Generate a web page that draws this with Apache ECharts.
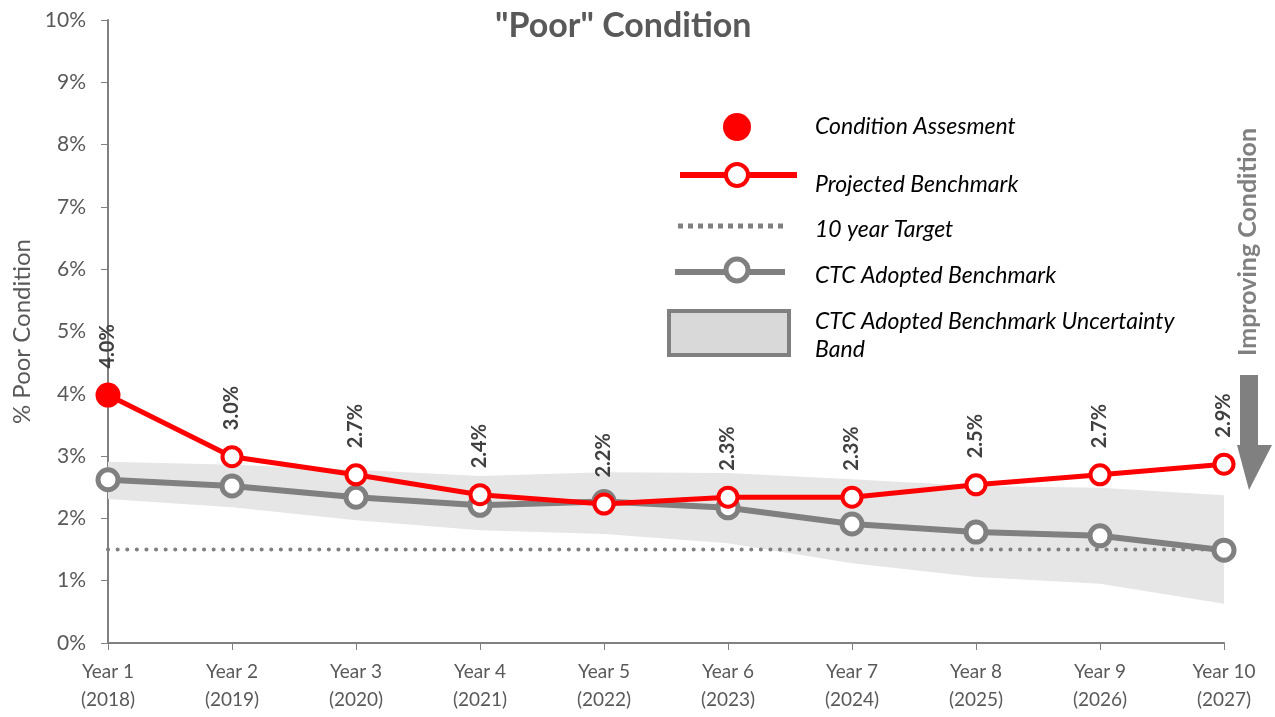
<!DOCTYPE html>
<html>
<head>
<meta charset="utf-8">
<script src="https://cdn.jsdelivr.net/npm/echarts@6/dist/echarts.min.js"></script>
<style>
  html, body { margin: 0; padding: 0; background: #fff; }
  #chartId { width: 1275px; height: 717px; }
</style>
</head>
<body>
<div id="chartId"></div>
<script>
// data
var categories = ['Year 1\n(2018)', 'Year 2\n(2019)', 'Year 3\n(2020)', 'Year 4\n(2021)', 'Year 5\n(2022)',
  'Year 6\n(2023)', 'Year 7\n(2024)', 'Year 8\n(2025)', 'Year 9\n(2026)', 'Year 10\n(2027)']
var assessment = [3.98, null, null, null, null, null, null, null, null, null]
var projected = [3.98, 2.99, 2.70, 2.38, 2.23, 2.34, 2.34, 2.54, 2.70, 2.87]
var adopted = [2.62, 2.52, 2.34, 2.21, 2.27, 2.17, 1.91, 1.78, 1.72, 1.49]
var target = [1.5, 1.5, 1.5, 1.5, 1.5, 1.5, 1.5, 1.5, 1.5, 1.5]
var bandLow = [2.31, 2.18, 1.97, 1.81, 1.75, 1.60, 1.28, 1.06, 0.95, 0.63]
var bandHigh = [2.91, 2.86, 2.78, 2.68, 2.74, 2.73, 2.63, 2.52, 2.49, 2.37]
var yTicks = { min: 0, max: 10, interval: 1 }

var RED = '#ff0000'
var GREY = '#808080'
var FONT = 'Lato, "Open Sans", sans-serif'

var bandSpan = bandHigh.map(function (v, i) { return +(v - bandLow[i]).toFixed(2) })

var legendText = function (txt, y) {
  return { type: 'text', x: 815, y: y, style: { text: txt, fontSize: 23, fontStyle: 'italic', fontFamily: FONT, fill: '#000', verticalAlign: 'middle' } }
}

var chart = echarts.init(document.getElementById('chartId'))
chart.setOption({
  animation: false,
  textStyle: { fontFamily: FONT },
  title: {
    text: '"Poor" Condition',
    left: 490,
    top: 4,
    textStyle: { fontSize: 34, fontWeight: 'bold', color: '#595959', fontFamily: FONT }
  },
  grid: { left: 108, right: 51, top: 20, bottom: 74, outerBoundsMode: 'none', containLabel: false },
  xAxis: {
    type: 'category',
    data: categories,
    boundaryGap: false,
    axisLine: { lineStyle: { color: GREY, width: 2 } },
    axisTick: { show: true, length: 7, lineStyle: { color: GREY, width: 1 } },
    axisLabel: { color: '#595959', fontSize: 19, lineHeight: 28, margin: 15, interval: 0 }
  },
  yAxis: {
    type: 'value',
    min: yTicks.min,
    max: yTicks.max,
    interval: yTicks.interval,
    name: '% Poor Condition',
    nameLocation: 'middle',
    nameRotate: 90,
    nameGap: 74,
    nameTextStyle: { color: '#595959', fontSize: 24 },
    axisLine: { show: true, lineStyle: { color: GREY, width: 2 } },
    axisTick: { show: true, length: 7, lineStyle: { color: GREY, width: 1 } },
    splitLine: { show: false },
    axisLabel: { color: '#595959', fontSize: 21, margin: 22, formatter: '{value}%' }
  },
  series: [
    {
      name: 'bandBase',
      type: 'line',
      stack: 'band',
      data: bandLow,
      symbol: 'none',
      lineStyle: { opacity: 0 },
      silent: true,
      z: 1
    },
    {
      name: 'CTC Adopted Benchmark Uncertainty Band',
      type: 'line',
      stack: 'band',
      data: bandSpan,
      symbol: 'none',
      lineStyle: { opacity: 0 },
      areaStyle: { color: '#e6e6e6', opacity: 1 },
      silent: true,
      z: 1
    },
    {
      name: '10 year Target',
      type: 'line',
      data: target,
      symbol: 'none',
      lineStyle: { color: GREY, width: 4, type: [0.1, 9.5], cap: 'round' },
      z: 2
    },
    {
      name: 'CTC Adopted Benchmark',
      type: 'line',
      data: adopted,
      symbol: 'circle',
      symbolSize: 20,
      itemStyle: { color: '#fff', borderColor: GREY, borderWidth: 5 },
      lineStyle: { color: GREY, width: 6 },
      z: 3
    },
    {
      name: 'Projected Benchmark',
      type: 'line',
      data: projected,
      symbol: 'circle',
      symbolSize: 19,
      itemStyle: { color: '#fff', borderColor: RED, borderWidth: 4 },
      lineStyle: { color: RED, width: 5 },
      label: {
        show: true,
        position: 'top',
        distance: 15,
        rotate: 90,
        align: 'left',
        verticalAlign: 'middle',
        fontSize: 20,
        fontWeight: 'bold',
        color: '#404040',
        formatter: function (p) { return p.value.toFixed(1) + '%' }
      },
      z: 4
    },
    {
      name: 'Condition Assesment',
      type: 'scatter',
      data: assessment,
      symbol: 'circle',
      symbolSize: 25,
      itemStyle: { color: RED, opacity: 1 },
      z: 5
    }
  ],
  graphic: [
    // legend
    { type: 'circle', shape: { cx: 737, cy: 127, r: 14 }, style: { fill: RED } },
    legendText('Condition Assesment', 127),
    { type: 'line', shape: { x1: 680, y1: 175, x2: 797, y2: 175 }, style: { stroke: RED, lineWidth: 6 } },
    { type: 'circle', shape: { cx: 737, cy: 175, r: 11 }, style: { fill: '#fff', stroke: RED, lineWidth: 4 } },
    legendText('Projected Benchmark', 185),
    { type: 'line', shape: { x1: 678, y1: 226, x2: 784, y2: 226 }, style: { stroke: GREY, lineWidth: 5, lineDash: [5, 5] } },
    legendText('10 year Target', 230),
    { type: 'line', shape: { x1: 675, y1: 272, x2: 785, y2: 272 }, style: { stroke: GREY, lineWidth: 6 } },
    { type: 'circle', shape: { cx: 737, cy: 270, r: 11 }, style: { fill: '#fff', stroke: GREY, lineWidth: 5 } },
    legendText('CTC Adopted Benchmark', 276),
    { type: 'rect', shape: { x: 669, y: 311, width: 120, height: 44 }, style: { fill: '#d9d9d9', stroke: GREY, lineWidth: 4 } },
    legendText('CTC Adopted Benchmark Uncertainty', 322),
    legendText('Band', 350),
    // improving condition arrow
    { type: 'text', x: 1248, y: 242, rotation: Math.PI / 2, style: { text: 'Improving Condition', fontSize: 25, fontWeight: 'bold', fontFamily: FONT, fill: GREY, align: 'center', verticalAlign: 'middle' } },
    { type: 'polygon', shape: { points: [[1240, 375], [1258, 375], [1258, 445], [1272, 445], [1249, 490], [1237, 445], [1240, 445]] }, style: { fill: GREY } }
  ]
})
</script>
</body>
</html>
